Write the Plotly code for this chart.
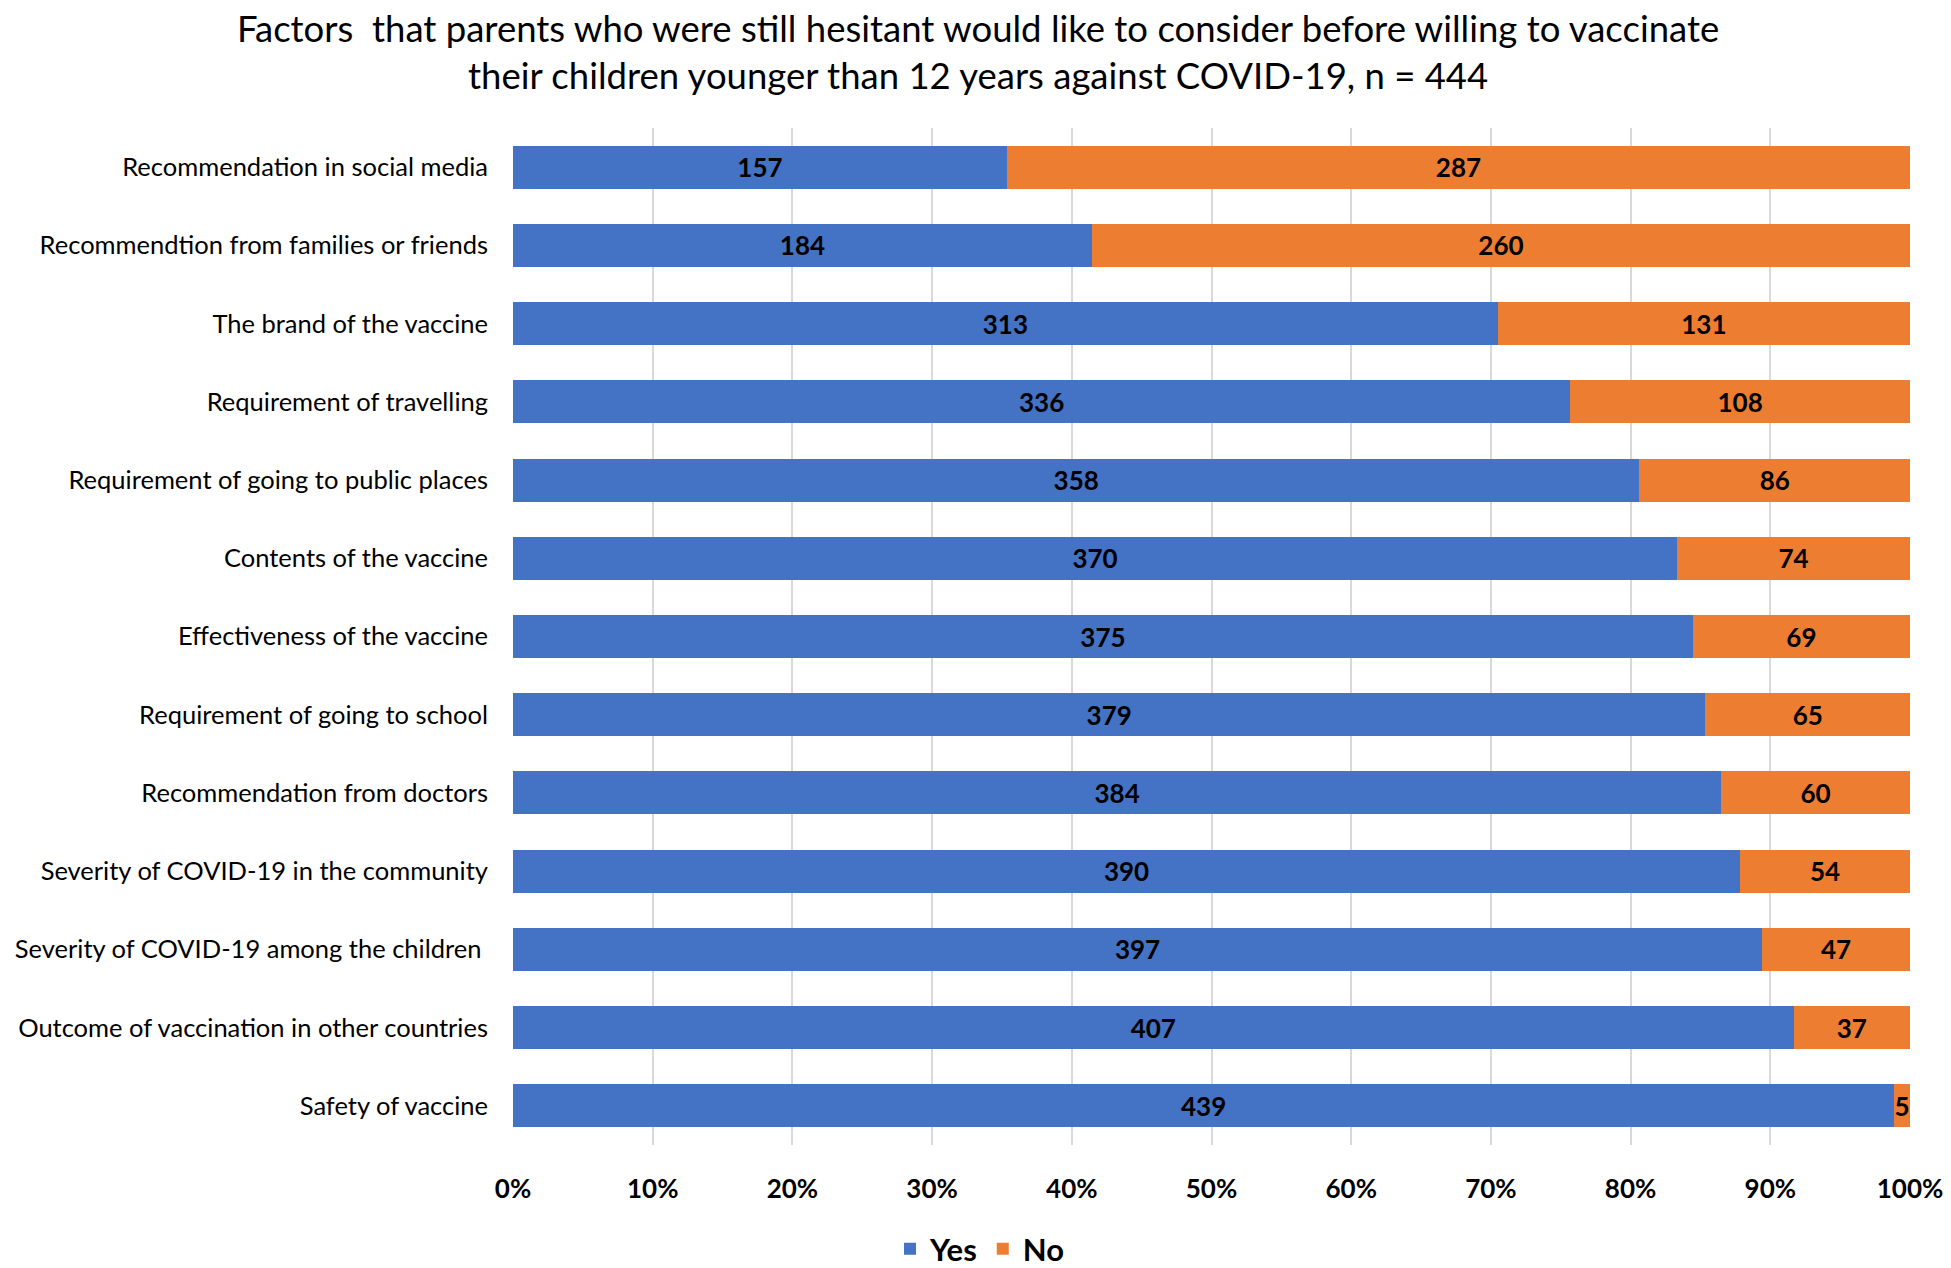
import plotly.graph_objects as go

categories = [
    "Recommendation in social media",
    "Recommendtion from families or friends",
    "The brand of the vaccine",
    "Requirement of travelling",
    "Requirement of going to public places",
    "Contents of the vaccine",
    "Effectiveness of the vaccine",
    "Requirement of going to school",
    "Recommendation from doctors",
    "Severity of COVID-19 in the community",
    "Severity of COVID-19 among the children ",
    "Outcome of vaccination in other countries",
    "Safety of vaccine",
]
yes_values = [157, 184, 313, 336, 358, 370, 375, 379, 384, 390, 397, 407, 439]
no_values = [287, 260, 131, 108, 86, 74, 69, 65, 60, 54, 47, 37, 5]
x_ticks = [0, 10, 20, 30, 40, 50, 60, 70, 80, 90, 100]
x_tick_labels = [f"{t}%" for t in x_ticks]
title_lines = [
    "Factors  that parents who were still hesitant would like to consider before willing to vaccinate",
    "their children younger than 12 years against COVID-19, n = 444",
]

FONT = "Lato"
W, H = 1943, 1260
ML, MR, MT, MB = 505, 41, 120, 123

fig = go.Figure()
for name, vals, color in [("Yes", yes_values, "#4472C4"), ("No", no_values, "#ED7D31")]:
    fig.add_trace(go.Bar(
        name=name, y=categories, x=vals, orientation="h",
        marker=dict(color=color, line=dict(width=0)),
        text=vals, textposition="inside", insidetextanchor="middle",
        constraintext="none", cliponaxis=False,
        textfont=dict(family=FONT, size=26, color="black", weight="bold"),
        textangle=0,
    ))

plot_w = W - ML - MR
plot_h = H - MT - MB
title_cx = 970
title_cy = 44

fig.add_annotation(
    text="<br>".join(title_lines),
    xref="paper", yref="paper",
    x=(title_cx - ML) / plot_w, y=1 + (MT - title_cy) / plot_h,
    xanchor="center", yanchor="middle", showarrow=False,
    font=dict(family=FONT, size=36.5, color="black"),
)

fig.update_layout(
    barmode="stack",
    barnorm="percent",
    bargap=0.45,
    width=W, height=H,
    paper_bgcolor="white", plot_bgcolor="white",
    margin=dict(l=ML, r=MR, t=MT, b=MB, autoexpand=False),
    font=dict(family=FONT, color="black"),
    legend=dict(
        orientation="h", x=0.5, xref="container", xanchor="center",
        y=0.015, yref="container", yanchor="middle",
        font=dict(family=FONT, size=31, color="black", weight="bold"),
        traceorder="normal",
    ),
    xaxis=dict(
        range=[0, 100], tickvals=x_ticks, ticktext=x_tick_labels,
        showgrid=True, gridcolor="#d9d9d9", gridwidth=2,
        zeroline=False, showline=False, ticks="",
        tickfont=dict(family=FONT, size=26, color="black", weight="bold"),
        ticklabelstandoff=26,
    ),
    yaxis=dict(
        categoryorder="array", categoryarray=categories, autorange="reversed",
        showgrid=False, ticks="", showline=False,
        tickfont=dict(family=FONT, size=25.5, color="black"),
        ticklabelstandoff=24,
    ),
)

fig.write_html("out.html")
